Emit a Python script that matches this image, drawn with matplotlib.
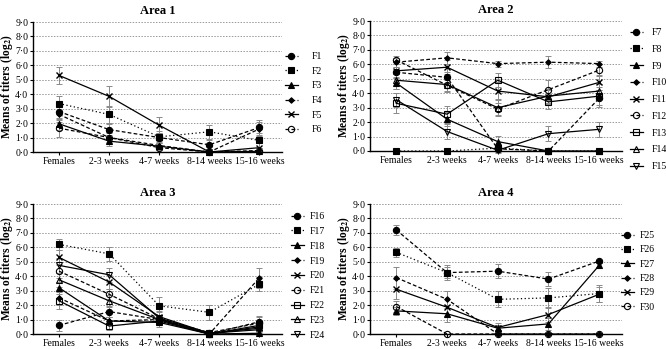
import matplotlib
matplotlib.use("Agg")
import matplotlib.pyplot as plt
import numpy as np

plt.rcParams['font.family'] = ['Liberation Serif', 'DejaVu Serif']
plt.rcParams['mathtext.fontset'] = 'stix'

categories = ["Females", "2-3 weeks", "4-7 weeks", "8-14 weeks", "15-16 weeks"]
yticks = [0, 1, 2, 3, 4, 5, 6, 7, 8, 9]
ytick_labels = ["0·0", "1·0", "2·0", "3·0", "4·0", "5·0", "6·0", "7·0", "8·0", "9·0"]

# ---- Area 1 ----
area1_names = ["F1", "F2", "F3", "F4", "F5", "F6"]
area1_vals = [
    [2.8, 1.55, 1.0, 0.5, 1.7],
    [3.35, 2.6, 1.05, 1.4, 0.8],
    [1.95, 0.75, 0.4, 0.0, 0.05],
    [2.6, 1.0, 0.45, 0.0, 1.6],
    [5.3, 3.85, 1.85, 0.0, 0.3],
    [1.65, 1.0, 0.3, 0.0, 0.1],
]
area1_errs = [
    [0.5, 0.4, 0.3, 0.3, 0.5],
    [0.5, 0.6, 0.4, 0.5, 0.5],
    [0.4, 0.3, 0.2, 0.1, 0.2],
    [0.5, 0.3, 0.3, 0.1, 0.5],
    [0.6, 0.75, 0.55, 0.1, 0.3],
    [0.6, 0.4, 0.3, 0.1, 0.2],
]

# ---- Area 2 ----
area2_names = ["F7", "F8", "F9", "F10", "F11", "F12", "F13", "F14", "F15"]
area2_vals = [
    [5.45, 5.1, 0.15, 0.0, 3.65],
    [0.0, 0.0, 0.2, 0.0, 0.0],
    [4.7, 2.2, 0.65, 0.0, 0.0],
    [6.15, 6.45, 6.05, 6.15, 6.05],
    [5.55, 5.8, 4.15, 3.75, 4.75],
    [6.3, 4.55, 2.9, 4.25, 5.6],
    [3.3, 2.55, 4.9, 3.4, 3.8],
    [4.9, 4.6, 3.0, 3.8, 4.15],
    [3.55, 1.35, 0.05, 1.2, 1.5],
]
area2_errs = [
    [0.4, 0.4, 0.3, 0.0, 0.6],
    [0.0, 0.0, 0.2, 0.0, 0.0],
    [0.4, 0.5, 0.4, 0.0, 0.0],
    [0.3, 0.4, 0.2, 0.4, 0.2],
    [0.5, 0.5, 0.6, 0.5, 0.5],
    [0.3, 0.4, 0.4, 0.7, 0.4],
    [0.7, 0.6, 0.5, 0.5, 0.6],
    [0.6, 0.5, 0.6, 0.5, 0.5],
    [0.5, 0.5, 0.1, 0.5, 0.5],
]

# ---- Area 3 ----
area3_names = ["F16", "F17", "F18", "F19", "F20", "F21", "F22", "F23", "F24"]
area3_vals = [
    [0.6, 1.55, 1.0, 0.0, 0.85],
    [6.2, 5.55, 1.95, 1.5, 3.45],
    [3.2, 0.9, 0.8, 0.0, 0.05],
    [2.5, 0.9, 1.0, 0.0, 3.9],
    [5.3, 3.6, 1.2, 0.05, 0.4],
    [4.35, 2.75, 1.05, 0.1, 0.75],
    [2.3, 0.55, 0.9, 0.0, 0.6],
    [3.75, 2.3, 1.0, 0.0, 0.5],
    [4.75, 4.1, 1.1, 0.05, 0.3],
]
area3_errs = [
    [0.4, 0.4, 0.3, 0.1, 0.4],
    [0.4, 0.5, 0.6, 0.5, 0.5],
    [0.4, 0.3, 0.3, 0.1, 0.1],
    [0.5, 0.3, 0.3, 0.1, 0.7],
    [0.5, 0.5, 0.4, 0.2, 0.3],
    [0.5, 0.4, 0.3, 0.2, 0.4],
    [0.6, 0.3, 0.3, 0.1, 0.3],
    [0.5, 0.4, 0.3, 0.1, 0.3],
    [0.5, 0.5, 0.4, 0.2, 0.3],
]

# ---- Area 4 ----
area4_names = ["F25", "F26", "F27", "F28", "F29", "F30"]
area4_vals = [
    [7.2, 4.25, 4.35, 3.8, 5.05],
    [5.65, 4.25, 2.4, 2.5, 2.8],
    [1.6, 1.4, 0.4, 0.7, 4.75],
    [3.9, 2.4, 0.0, 0.0, 0.0],
    [3.1, 1.85, 0.45, 1.35, 2.75],
    [1.9, 0.0, 0.0, 0.0, 0.0],
]
area4_errs = [
    [0.35, 0.5, 0.5, 0.5, 0.1],
    [0.3, 0.4, 0.55, 0.7, 0.6],
    [0.3, 0.6, 0.2, 0.4, 0.2],
    [0.75, 0.6, 0.0, 0.0, 0.0],
    [0.7, 0.6, 0.3, 0.5, 0.5],
    [0.4, 0.0, 0.0, 0.0, 0.0],
]

DASH = (0, (3.0, 1.8))
DOT = (0, (1, 2))
styles = [
    dict(marker='o', ls=DASH, ms=4.5, mfc='black'),
    dict(marker='s', ls=DOT, ms=4.5, mfc='black'),
    dict(marker='^', ls='-', ms=4.5, mfc='black'),
    dict(marker='D', ls=DASH, ms=2.8, mfc='black'),
    dict(marker='x', ls='-', ms=5, mfc='black', mew=1.0),
    dict(marker='o', ls=DASH, ms=4.5, mfc='none'),
    dict(marker='s', ls='-', ms=4.5, mfc='none'),
    dict(marker='^', ls='-', ms=4.5, mfc='none'),
    dict(marker='v', ls='-', ms=4.5, mfc='none'),
]

W, H = 666, 349
fig = plt.figure(figsize=(W / 100, H / 100), dpi=100)


def panel(rect, title, names, vals, errs, label_x, leg_xy, labelspacing, textpad):
    l, t, r, b = rect
    ax = fig.add_axes([l / W, 1 - b / H, (r - l) / W, (b - t) / H])
    x = np.arange(len(categories))
    for i, (nm, v, e) in enumerate(zip(names, vals, errs)):
        st = dict(styles[i])
        ax.errorbar(x, v, yerr=e, fmt='none', ecolor='#8a8a8a', elinewidth=0.7,
                    capsize=2, capthick=0.7, zorder=2, clip_on=False)
        ax.plot(x, v, color='black', lw=0.9, ls=st['ls'], marker=st['marker'],
                ms=st['ms'], mfc=st['mfc'], mec='black', mew=st.get('mew', 0.8),
                label=nm, zorder=3, clip_on=False)
    ax.set_xlim(-0.52, 4.45)
    ax.set_ylim(0, 9)
    ax.set_yticks(yticks)
    ax.set_yticklabels(ytick_labels, fontsize=7)
    ax.set_xticks(x)
    ax.set_xticklabels(categories, fontsize=7)
    ax.tick_params(axis='y', length=2.5, width=0.8, pad=1)
    ax.tick_params(axis='x', length=2.5, width=0.8, pad=1)
    for yv in yticks[1:]:
        ax.axhline(yv, color='#999999', lw=0.7, ls=(0, (1.5, 1.5)), zorder=1)
    ax.spines['top'].set_visible(False)
    ax.spines['right'].set_visible(False)
    ax.spines['left'].set_linewidth(1.0)
    ax.spines['bottom'].set_linewidth(1.0)
    ax.set_title(title, fontsize=9, fontweight='bold', pad=6)
    ax.set_ylabel(r'Means of titers (log$_{\mathbf{2}}$)', fontsize=8.3,
                  fontweight='bold')
    ax.yaxis.set_label_coords((label_x - l) / (r - l), 0.5)
    ax.legend(loc='upper left', bbox_to_anchor=(leg_xy[0] / W, 1 - leg_xy[1] / H),
              bbox_transform=fig.transFigure, frameon=False, fontsize=7,
              handlelength=1.3, handletextpad=textpad, labelspacing=labelspacing,
              borderpad=0, borderaxespad=0)
    return ax


panel((33, 22, 282, 152), "Area 1", area1_names, area1_vals, area1_errs, 15.5,
      (285, 52), 0.58, 1.4)
panel((370, 21, 622, 151), "Area 2", area2_names, area2_vals, area2_errs, 352,
      (630, 28), 0.8, 0.9)
panel((33, 204, 282, 334), "Area 3", area3_names, area3_vals, area3_errs, 15.5,
      (291, 212), 0.6, 0.6)
panel((370, 204, 622, 334), "Area 4", area4_names, area4_vals, area4_errs, 352,
      (621, 231), 0.55, 0.6)

fig.savefig("out.png", dpi=100)
